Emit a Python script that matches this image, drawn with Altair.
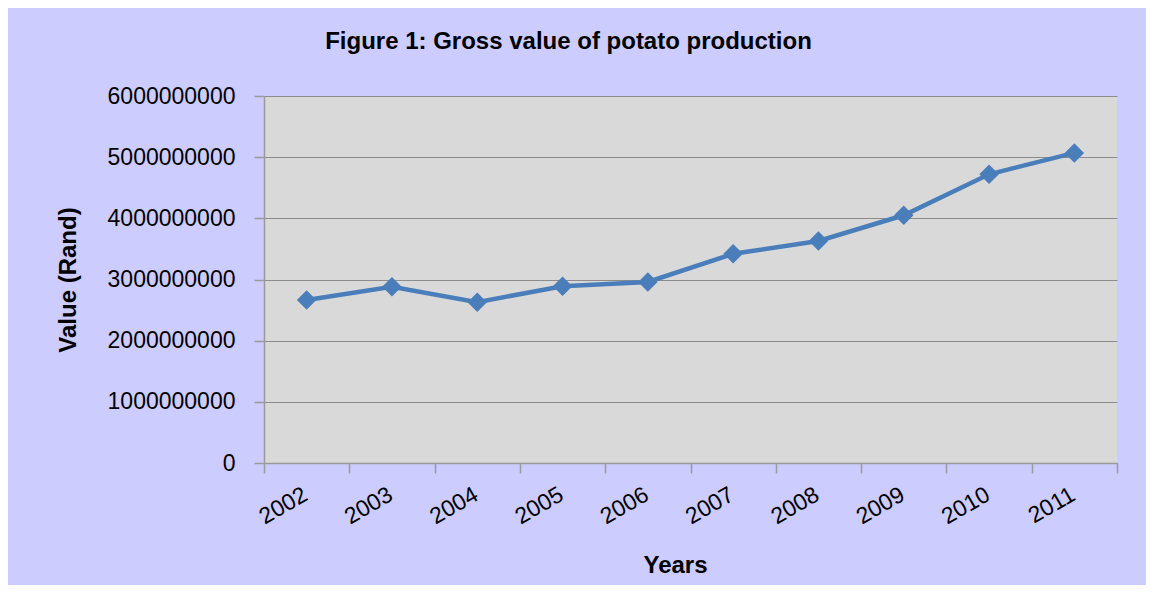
import altair as alt
import pandas as pd

years = ["2002", "2003", "2004", "2005", "2006", "2007", "2008", "2009", "2010", "2011"]
values = [2665000000, 2880000000, 2630000000, 2890000000, 2960000000,
          3420000000, 3630000000, 4050000000, 4720000000, 5070000000]
y_ticks = [0, 1000000000, 2000000000, 3000000000, 4000000000, 5000000000, 6000000000]

df = pd.DataFrame({"Year": years, "Value": values})

FONT = "Liberation Sans, Arial, sans-serif"
BLUE = "#4A7EBB"

x = alt.X("Year:O",
          scale=alt.Scale(type="band", paddingInner=0, paddingOuter=0),
          axis=alt.Axis(title="Years", labelAngle=-30, labelAlign="right", labelBaseline="top",
                        labelPadding=10, labelOffset=-7, tickBand="extent", tickSize=10,
                        titleX=411, titleY=102, titleBaseline="middle", titleAlign="center"))
y = alt.Y("Value:Q",
          scale=alt.Scale(domain=[0, 6000000000], nice=False),
          axis=alt.Axis(title="Value (Rand)", values=y_ticks, format="d", tickSize=10,
                        labelPadding=19, titleX=-196, titleBaseline="middle"))

base = alt.Chart(df).encode(x=x, y=y)
line = base.mark_line(color=BLUE, strokeWidth=4.5)
pts = base.mark_point(shape="diamond", filled=True, size=380, color=BLUE, opacity=1)

chart = (line + pts).properties(
    width=853, height=367,
    autosize=alt.AutoSizeParams(type="none"),
    padding={"left": 256, "top": 88, "right": 29, "bottom": 122},
    background="#CCCCFF",
    title=alt.TitleParams("Figure 1: Gross value of potato production", anchor="middle",
                          dx=-122, offset=31, fontSize=24, fontWeight="bold", font=FONT,
                          color="#000000"),
).configure_view(fill="#D9D9D9", stroke=None).configure_axis(
    labelFont=FONT, titleFont=FONT, labelFontSize=23, titleFontSize=24,
    labelColor="#000000", titleColor="#000000", titleFontWeight="bold",
    domainColor="#9A9A9A", tickColor="#9A9A9A", gridColor="#8C8C8C", domainWidth=1.5,
    tickWidth=1.5,
).configure_axisX(grid=False).configure_axisY(grid=True)

chart.save("out.html", embed_options={"renderer": "svg", "actions": False})
